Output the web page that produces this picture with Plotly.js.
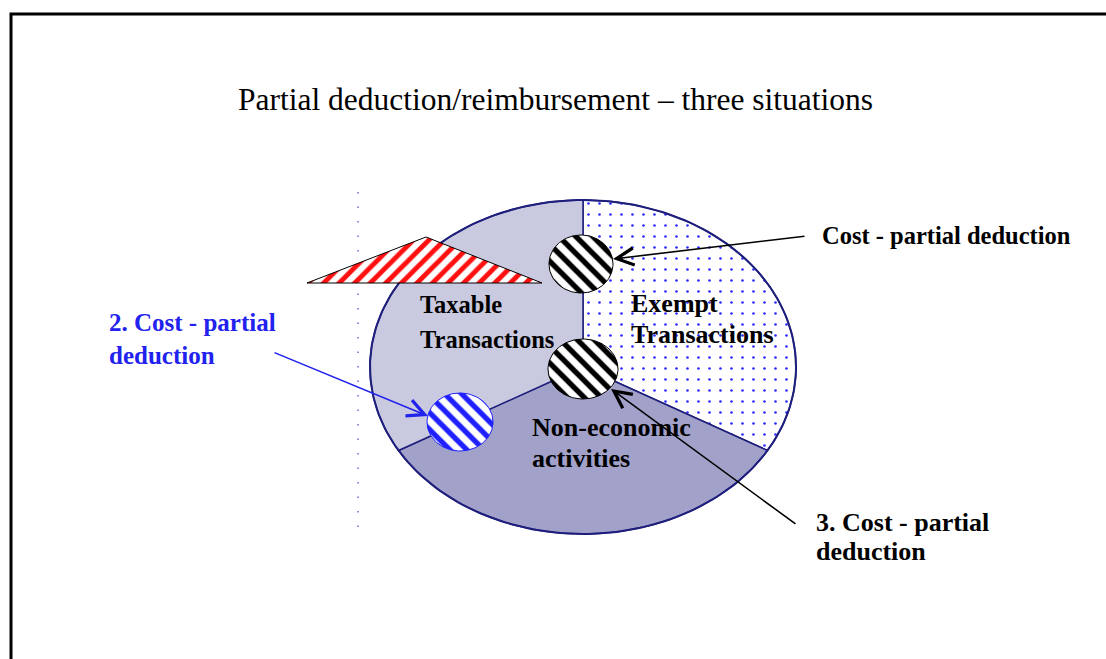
<!DOCTYPE html>
<html><head><meta charset="utf-8">
<script src="https://cdn.plot.ly/plotly-3.0.1.min.js"></script>
<style>html,body{margin:0;padding:0;background:#fff;overflow:hidden}#chart{width:1106px;height:659px}</style>
</head><body><div id="chart"></div>
<script>
// ---------- data ----------
const titleText = 'Partial deduction/reimbursement \u2013 three situations';
const sliceNames = ['Exempt Transactions', 'Non-economic activities', 'Taxable Transactions'];
const sliceShares = [1, 1, 1];              // equal thirds, clockwise from 12 o'clock
const sliceLabelLines = [['Exempt', 'Transactions'], ['Non-economic', 'activities'], ['Taxable', 'Transactions']];
const costLabelLines = [['Cost - partial deduction'], ['2. Cost - partial', 'deduction'], ['3. Cost - partial', 'deduction']];

// ---------- geometry / style (pixel space) ----------
const W = 1106, H = 659;
const pie = {cx: 583, cy: 367, rx: 213, ry: 167};
const sliceStyle = [
  {fill: '#ffffff', pattern: {shape: '.', fgcolor: '#2b2bff', bgcolor: '#ffffff', size: 11, solidity: 0.045, fillmode: 'replace'}},
  {fill: '#a2a1c9'},
  {fill: '#c9cadf'}
];
const sliceLabelPos = [{x: 629, y: [303, 334], size: 26}, {x: 530, y: [427, 458], size: 26}, {x: 418, y: [304, 339], size: 24.5}];
const costLabelPos = [
  {x: 820, y: [235], size: 24.5, color: '#000000'},
  {x: 107, y: [322, 355], size: 25, color: '#2222ee'},
  {x: 814, y: [522, 551], size: 26, color: '#000000'}
];
const arrows = [
  {tail: [806, 236], head: [613, 259], color: '#000000'},
  {tail: [273, 352], head: [428, 416], color: '#2222ee'},
  {tail: [797, 525], head: [611, 389], color: '#000000'}
];
const discs = [
  {cx: 581, cy: 264, rx: 32, ry: 29, fg: '#000000', line: '#000000'},
  {cx: 583, cy: 369, rx: 35, ry: 30, fg: '#000000', line: '#000000'},
  {cx: 460, cy: 422, rx: 33, ry: 29, fg: '#2020ff', line: '#2020ff'}
];
const triangle = {x: [307, 426, 542, 307], y: [283, 237, 283, 283]};

const FONT = 'Liberation Serif, Times New Roman, serif';
const traces = [];

function ellPt(c, deg) {
  const r = deg * Math.PI / 180;
  return [c.cx + c.rx * Math.cos(r), c.cy - c.ry * Math.sin(r)];
}

// pie slices from shares
const total = sliceShares.reduce((a, b) => a + b, 0);
let start = 90;
sliceShares.forEach((v, i) => {
  const sweep = v / total * 360;
  const xs = [pie.cx], ys = [pie.cy];
  const n = 80;
  for (let k = 0; k <= n; k++) {
    const p = ellPt(pie, start - sweep * k / n);
    xs.push(p[0]); ys.push(p[1]);
  }
  xs.push(pie.cx); ys.push(pie.cy);
  const t = {x: xs, y: ys, mode: 'lines', fill: 'toself', name: sliceNames[i],
    fillcolor: sliceStyle[i].fill, line: {color: '#1e1e7c', width: 1.5}, hoverinfo: 'skip'};
  if (sliceStyle[i].pattern) t.fillpattern = sliceStyle[i].pattern;
  traces.push(t);
  start -= sweep;
});
// ellipse outline
{
  const xs = [], ys = [];
  for (let k = 0; k <= 240; k++) { const p = ellPt(pie, k * 1.5); xs.push(p[0]); ys.push(p[1]); }
  traces.push({x: xs, y: ys, mode: 'lines', line: {color: '#1e1e7c', width: 2}, hoverinfo: 'skip'});
}
// striped triangle
traces.push({x: triangle.x, y: triangle.y, mode: 'lines', fill: 'toself', fillcolor: '#ffffff',
  fillpattern: {shape: '/', fgcolor: '#ff1010', bgcolor: '#ffffff', size: 11, solidity: 0.45, fillmode: 'replace'},
  line: {color: '#000000', width: 1}, hoverinfo: 'skip'});
// striped discs
discs.forEach(d => {
  const xs = [], ys = [];
  for (let k = 0; k <= 120; k++) { const p = ellPt(d, k * 3); xs.push(p[0]); ys.push(p[1]); }
  traces.push({x: xs, y: ys, mode: 'lines', fill: 'toself', fillcolor: '#ffffff',
    fillpattern: {shape: '\\', fgcolor: d.fg, bgcolor: '#ffffff', size: 12, solidity: 0.45, fillmode: 'replace'},
    line: {color: d.line, width: 1}, hoverinfo: 'skip'});
});

const annotations = [];
annotations.push({x: 555, y: 99, xref: 'x', yref: 'y', text: titleText, showarrow: false,
  xanchor: 'center', yanchor: 'middle', font: {family: FONT, size: 31.5, color: '#000'}});
sliceLabelLines.forEach((lines, i) => {
  lines.forEach((ln, j) => annotations.push({x: sliceLabelPos[i].x, y: sliceLabelPos[i].y[j], xref: 'x', yref: 'y',
    text: '<b>' + ln + '</b>', showarrow: false, xanchor: 'left', yanchor: 'middle',
    font: {family: FONT, size: sliceLabelPos[i].size, color: '#000'}}));
});
costLabelLines.forEach((lines, i) => {
  lines.forEach((ln, j) => annotations.push({x: costLabelPos[i].x, y: costLabelPos[i].y[j], xref: 'x', yref: 'y',
    text: '<b>' + ln + '</b>', showarrow: false, xanchor: 'left', yanchor: 'middle',
    font: {family: FONT, size: costLabelPos[i].size, color: costLabelPos[i].color}}));
});
arrows.forEach(a => annotations.push({x: a.head[0], y: a.head[1], ax: a.tail[0], ay: a.tail[1],
  xref: 'x', yref: 'y', axref: 'x', ayref: 'y', text: '', showarrow: true, arrowhead: 5, arrowsize: 2.1,
  arrowwidth: 1.6, arrowcolor: a.color, standoff: 0, startstandoff: 0}));

const layout = {
  width: W, height: H, margin: {l: 0, r: 0, t: 0, b: 0},
  paper_bgcolor: '#ffffff', plot_bgcolor: '#ffffff', showlegend: false, hovermode: false,
  xaxis: {range: [0, W], visible: false, fixedrange: true},
  yaxis: {range: [H, 0], visible: false, fixedrange: true},
  annotations: annotations,
  shapes: [
    {type: 'line', xref: 'x', yref: 'y', x0: 358, x1: 358, y0: 192, y1: 532, layer: 'below',
      line: {color: '#6b6bd8', width: 1.5, dash: '1.5px,13px'}},
    {type: 'rect', xref: 'x', yref: 'y', x0: 11, y0: 14, x1: W + 20, y1: H + 20,
      line: {color: '#000000', width: 3}, fillcolor: 'rgba(0,0,0,0)'}
  ]
};
Plotly.newPlot('chart', traces, layout, {staticPlot: true, displayModeBar: false});
</script></body></html>
